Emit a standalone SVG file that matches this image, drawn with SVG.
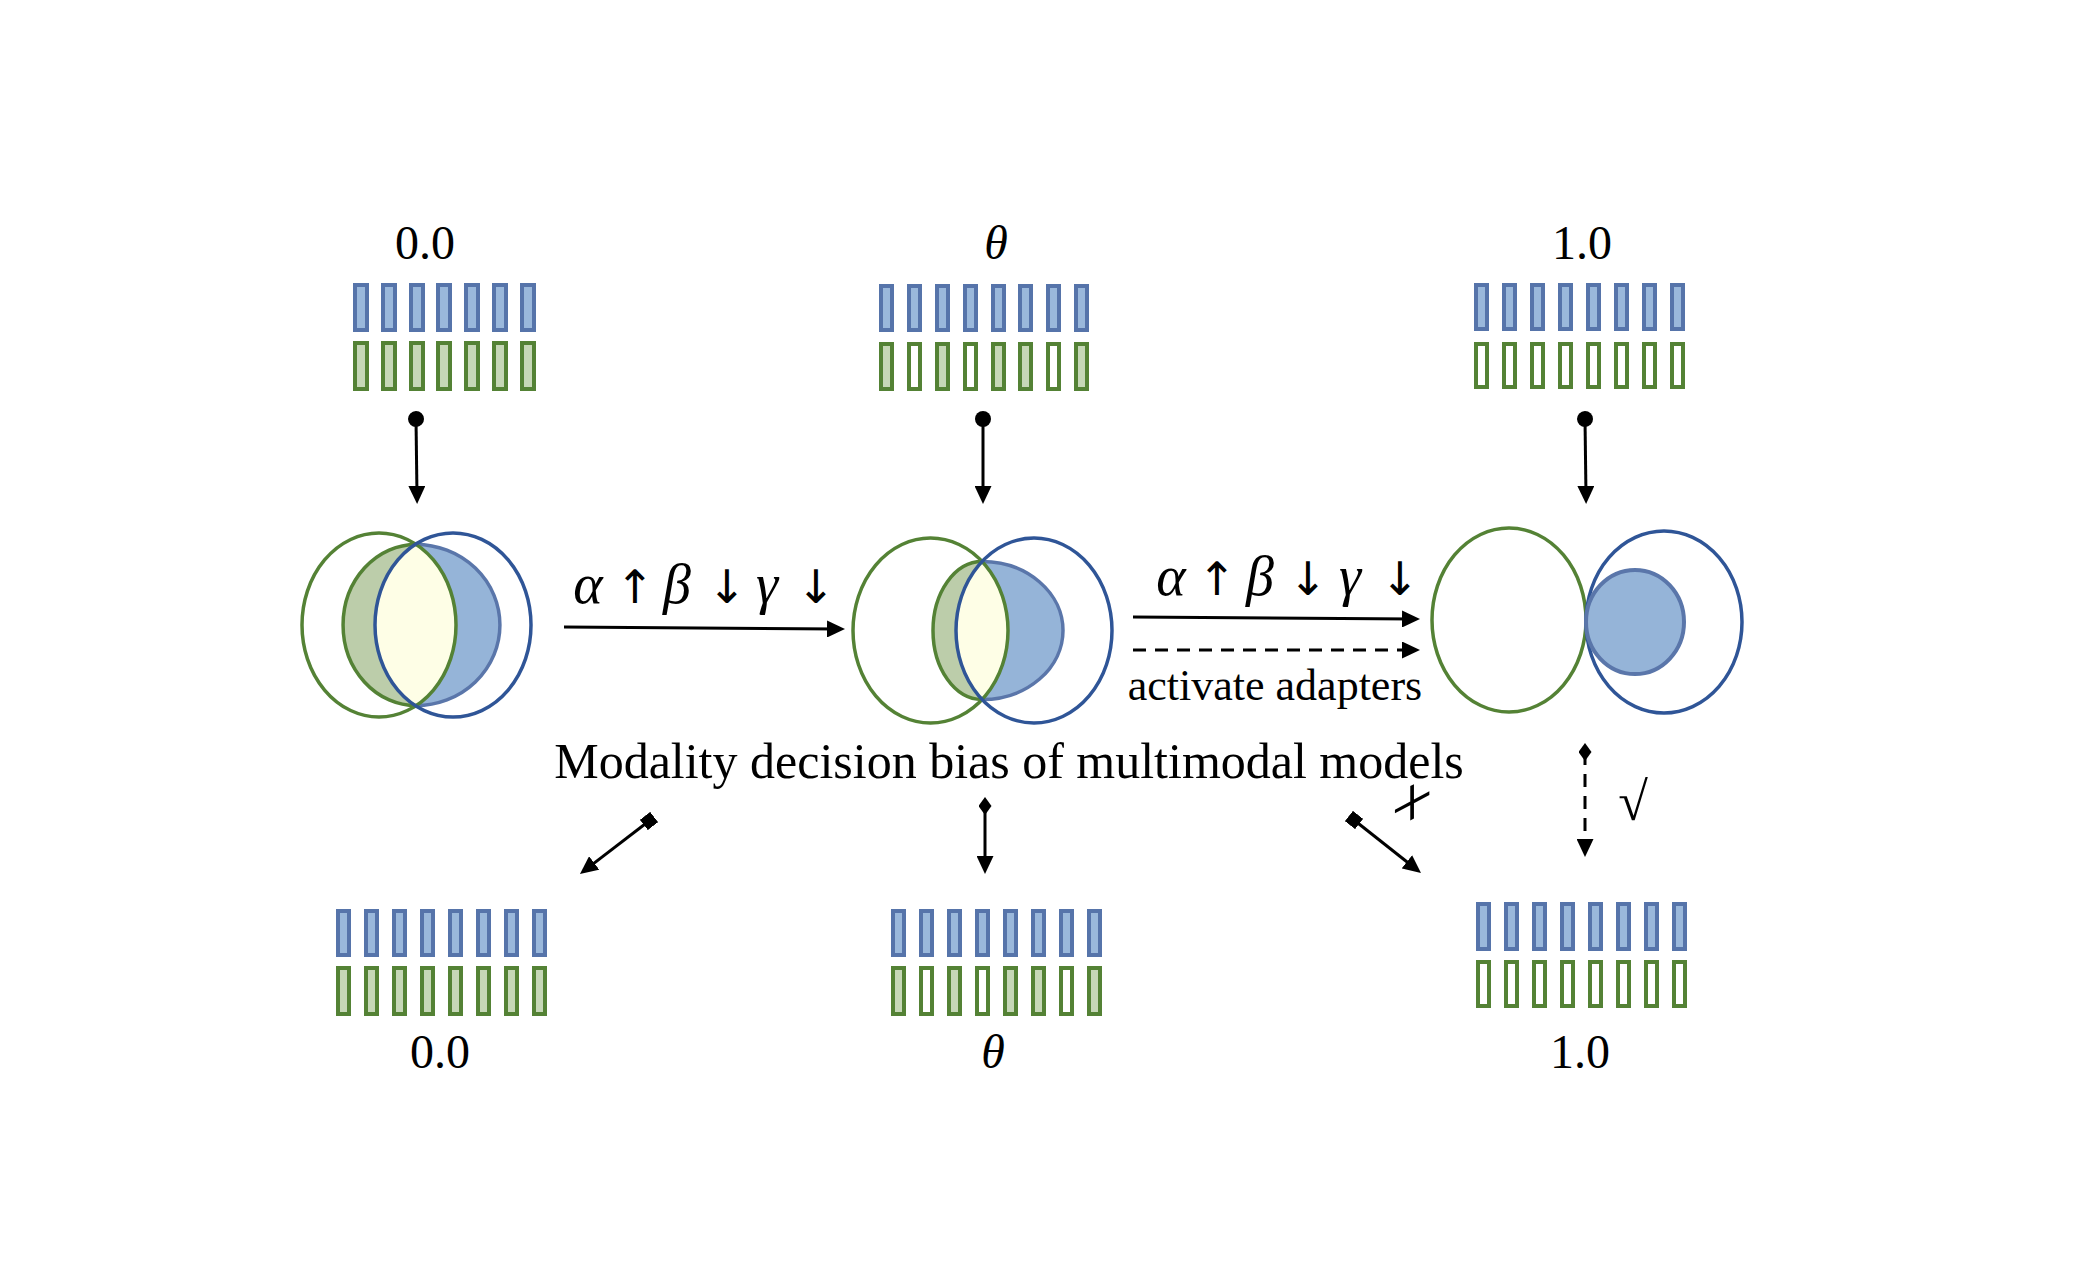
<svg xmlns="http://www.w3.org/2000/svg" width="2081" height="1281" viewBox="0 0 2081 1281">
<style>
  .bb{fill:#9ab8db;stroke:#5674aa;stroke-width:4}
  .gf{fill:#c6d7b7;stroke:#548235;stroke-width:4}
  .ge{fill:#ffffff;stroke:#548235;stroke-width:4}
  .gbig{fill:none;stroke:#548235;stroke-width:3.5}
  .bbig{fill:none;stroke:#2f5597;stroke-width:3.5}
  .ginner{fill:none;stroke:#548235;stroke-width:3.5}
  .binner{fill:none;stroke:#5a76aa;stroke-width:3.5}
  .gcres{fill:#bccdaa;stroke:none}
  .lens{fill:#fefee6;stroke:none}
  .bcres{fill:#95b4d8;stroke:none}
  .txt{font-family:"Liberation Serif","Times New Roman",serif;fill:#000}
  .num{font-size:48px;text-anchor:middle}
  .it{font-style:italic}
  .gr{font-style:italic;font-size:56px}
  .ar{font-family:"DejaVu Sans",sans-serif;font-size:46px}
  .conn{fill:none;stroke:#000;stroke-width:3}
  .dash{stroke-dasharray:13 9}
</style>
<defs>
  <marker id="arrow" markerUnits="userSpaceOnUse" viewBox="0 0 18 17" refX="10" refY="8.5" markerWidth="18" markerHeight="17" orient="auto">
    <path d="M0,0 L18,8.5 L0,17 Z" fill="#000"/>
  </marker>
  <marker id="dot" markerUnits="userSpaceOnUse" viewBox="0 0 18 18" refX="9" refY="9" markerWidth="18" markerHeight="18" orient="auto">
    <circle cx="9" cy="9" r="8" fill="#000"/>
  </marker>
  <marker id="square" markerUnits="userSpaceOnUse" viewBox="0 0 13 13" refX="6.5" refY="6.5" markerWidth="13" markerHeight="13" orient="auto">
    <rect x="0" y="0" width="13" height="13" fill="#000"/>
  </marker>
  <marker id="diamond" markerUnits="userSpaceOnUse" viewBox="0 0 18 13" refX="9" refY="6.5" markerWidth="18" markerHeight="13" orient="auto">
    <path d="M0,6.5 L9,0 L18,6.5 L9,13 Z" fill="#000"/>
  </marker>
</defs>
<rect width="2081" height="1281" fill="#ffffff"/>

<!-- top token groups -->
<g id="tokens-top-0">
  <text class="txt num" x="425" y="259">0.0</text>
  <g>
    <rect class="bb" x="355" y="285" width="12" height="45"/><rect class="bb" x="383" y="285" width="12" height="45"/><rect class="bb" x="411" y="285" width="12" height="45"/><rect class="bb" x="438" y="285" width="12" height="45"/><rect class="bb" x="466" y="285" width="12" height="45"/><rect class="bb" x="494" y="285" width="12" height="45"/><rect class="bb" x="522" y="285" width="12" height="45"/>
    <rect class="gf" x="355" y="343" width="12" height="46"/><rect class="gf" x="383" y="343" width="12" height="46"/><rect class="gf" x="411" y="343" width="12" height="46"/><rect class="gf" x="438" y="343" width="12" height="46"/><rect class="gf" x="466" y="343" width="12" height="46"/><rect class="gf" x="494" y="343" width="12" height="46"/><rect class="gf" x="522" y="343" width="12" height="46"/>
  </g>
</g>
<g id="tokens-top-theta">
  <text class="txt num it" x="996" y="259">θ</text>
  <g>
    <rect class="bb" x="881" y="286" width="11" height="44"/><rect class="bb" x="909" y="286" width="11" height="44"/><rect class="bb" x="937" y="286" width="11" height="44"/><rect class="bb" x="965" y="286" width="11" height="44"/><rect class="bb" x="993" y="286" width="11" height="44"/><rect class="bb" x="1020" y="286" width="11" height="44"/><rect class="bb" x="1048" y="286" width="11" height="44"/><rect class="bb" x="1076" y="286" width="11" height="44"/>
    <rect class="gf" x="881" y="344" width="11" height="45"/><rect class="ge" x="909" y="344" width="11" height="45"/><rect class="gf" x="937" y="344" width="11" height="45"/><rect class="ge" x="965" y="344" width="11" height="45"/><rect class="gf" x="993" y="344" width="11" height="45"/><rect class="gf" x="1020" y="344" width="11" height="45"/><rect class="ge" x="1048" y="344" width="11" height="45"/><rect class="gf" x="1076" y="344" width="11" height="45"/>
  </g>
</g>
<g id="tokens-top-1">
  <text class="txt num" x="1582" y="259">1.0</text>
  <g>
    <rect class="bb" x="1476" y="285" width="11" height="44"/><rect class="bb" x="1504" y="285" width="11" height="44"/><rect class="bb" x="1532" y="285" width="11" height="44"/><rect class="bb" x="1560" y="285" width="11" height="44"/><rect class="bb" x="1588" y="285" width="11" height="44"/><rect class="bb" x="1616" y="285" width="11" height="44"/><rect class="bb" x="1644" y="285" width="11" height="44"/><rect class="bb" x="1672" y="285" width="11" height="44"/>
    <rect class="ge" x="1476" y="344" width="11" height="43"/><rect class="ge" x="1504" y="344" width="11" height="43"/><rect class="ge" x="1532" y="344" width="11" height="43"/><rect class="ge" x="1560" y="344" width="11" height="43"/><rect class="ge" x="1588" y="344" width="11" height="43"/><rect class="ge" x="1616" y="344" width="11" height="43"/><rect class="ge" x="1644" y="344" width="11" height="43"/><rect class="ge" x="1672" y="344" width="11" height="43"/>
  </g>
</g>

<!-- Venn nodes -->
<g id="venn-0">
  <path class="gcres" d="M416,544.4 A73,80.6 0 0 0 416,705.6 A78,92 0 0 1 416,544.4 Z"/>
  <path class="lens" d="M416,544.4 A77,92 0 0 1 416,705.6 A78,92 0 0 1 416,544.4 Z"/>
  <path class="bcres" d="M416,544.4 A84,80.6 0 0 1 416,705.6 A77,92 0 0 0 416,544.4 Z"/>
  <path class="ginner" d="M416,544.4 A73,80.6 0 0 0 416,705.6"/>
  <path class="binner" d="M416,544.4 A84,80.6 0 0 1 416,705.6"/>
  <ellipse class="gbig" cx="379" cy="625" rx="77" ry="92"/>
  <ellipse class="bbig" cx="453" cy="625" rx="78" ry="92"/>
</g>
<g id="venn-theta">
  <path class="gcres" d="M982,561.5 A49,69 0 0 0 982,699.5 A78,92.5 0 0 1 982,561.5 Z"/>
  <path class="lens" d="M982,561.5 A77.5,92.5 0 0 1 982,699.5 A78,92.5 0 0 1 982,561.5 Z"/>
  <path class="bcres" d="M982,561.5 A81,69 0 0 1 982,699.5 A77.5,92.5 0 0 0 982,561.5 Z"/>
  <path class="ginner" d="M982,561.5 A49,69 0 0 0 982,699.5"/>
  <path class="binner" d="M982,561.5 A81,69 0 0 1 982,699.5"/>
  <ellipse class="gbig" cx="930.5" cy="630.5" rx="77.5" ry="92.5"/>
  <ellipse class="bbig" cx="1034" cy="630.5" rx="78" ry="92.5"/>
</g>
<g id="venn-1">
  <ellipse class="gbig" cx="1509" cy="620" rx="77" ry="92"/>
  <ellipse class="bbig" cx="1664" cy="622" rx="78" ry="91"/>
  <ellipse cx="1635" cy="622" rx="49" ry="52" fill="#95b4d8" stroke="#5a76aa" stroke-width="4"/>
</g>

<!-- labels -->
<g id="label-shift-1">
  <text class="txt" text-anchor="middle" y="603"><tspan class="gr" x="588">α</tspan><tspan class="ar" x="635">↑</tspan><tspan class="gr" x="677">β</tspan><tspan class="ar" x="727">↓</tspan><tspan class="gr" x="767">γ</tspan><tspan class="ar" x="816">↓</tspan></text>
</g>
<g id="label-shift-2">
  <text class="txt" text-anchor="middle" y="595"><tspan class="gr" x="1171">α</tspan><tspan class="ar" x="1217">↑</tspan><tspan class="gr" x="1260">β</tspan><tspan class="ar" x="1308">↓</tspan><tspan class="gr" x="1350">γ</tspan><tspan class="ar" x="1400">↓</tspan></text>
  <text class="txt" font-size="44" text-anchor="middle" x="1275" y="700">activate adapters</text>
</g>
<g id="title">
  <text class="txt" font-size="50" text-anchor="middle" x="1009" y="778">Modality decision bias of multimodal models</text>
</g>
<g id="marks">
  <text class="txt" font-size="74" text-anchor="middle" transform="translate(1412,806) skewY(-28)" x="0" y="21">+</text>
  <text class="txt" font-size="54" text-anchor="middle" x="1633" y="820">√</text>
</g>

<!-- bottom token groups -->
<g id="tokens-bottom-0">
  <g>
    <rect class="bb" x="338" y="911" width="11" height="44"/><rect class="bb" x="366" y="911" width="11" height="44"/><rect class="bb" x="394" y="911" width="11" height="44"/><rect class="bb" x="422" y="911" width="11" height="44"/><rect class="bb" x="450" y="911" width="11" height="44"/><rect class="bb" x="478" y="911" width="11" height="44"/><rect class="bb" x="506" y="911" width="11" height="44"/><rect class="bb" x="534" y="911" width="11" height="44"/>
    <rect class="gf" x="338" y="968" width="11" height="46"/><rect class="gf" x="366" y="968" width="11" height="46"/><rect class="gf" x="394" y="968" width="11" height="46"/><rect class="gf" x="422" y="968" width="11" height="46"/><rect class="gf" x="450" y="968" width="11" height="46"/><rect class="gf" x="478" y="968" width="11" height="46"/><rect class="gf" x="506" y="968" width="11" height="46"/><rect class="gf" x="534" y="968" width="11" height="46"/>
  </g>
  <text class="txt num" x="440" y="1068">0.0</text>
</g>
<g id="tokens-bottom-theta">
  <g>
    <rect class="bb" x="893" y="911" width="11" height="44"/><rect class="bb" x="921" y="911" width="11" height="44"/><rect class="bb" x="949" y="911" width="11" height="44"/><rect class="bb" x="977" y="911" width="11" height="44"/><rect class="bb" x="1005" y="911" width="11" height="44"/><rect class="bb" x="1033" y="911" width="11" height="44"/><rect class="bb" x="1061" y="911" width="11" height="44"/><rect class="bb" x="1089" y="911" width="11" height="44"/>
    <rect class="gf" x="893" y="968" width="11" height="46"/><rect class="ge" x="921" y="968" width="11" height="46"/><rect class="gf" x="949" y="968" width="11" height="46"/><rect class="ge" x="977" y="968" width="11" height="46"/><rect class="gf" x="1005" y="968" width="11" height="46"/><rect class="gf" x="1033" y="968" width="11" height="46"/><rect class="ge" x="1061" y="968" width="11" height="46"/><rect class="gf" x="1089" y="968" width="11" height="46"/>
  </g>
  <text class="txt num it" x="993" y="1068">θ</text>
</g>
<g id="tokens-bottom-1">
  <g>
    <rect class="bb" x="1478" y="904" width="11" height="45"/><rect class="bb" x="1506" y="904" width="11" height="45"/><rect class="bb" x="1534" y="904" width="11" height="45"/><rect class="bb" x="1562" y="904" width="11" height="45"/><rect class="bb" x="1590" y="904" width="11" height="45"/><rect class="bb" x="1618" y="904" width="11" height="45"/><rect class="bb" x="1646" y="904" width="11" height="45"/><rect class="bb" x="1674" y="904" width="11" height="45"/>
    <rect class="ge" x="1478" y="962" width="11" height="44"/><rect class="ge" x="1506" y="962" width="11" height="44"/><rect class="ge" x="1534" y="962" width="11" height="44"/><rect class="ge" x="1562" y="962" width="11" height="44"/><rect class="ge" x="1590" y="962" width="11" height="44"/><rect class="ge" x="1618" y="962" width="11" height="44"/><rect class="ge" x="1646" y="962" width="11" height="44"/><rect class="ge" x="1674" y="962" width="11" height="44"/>
  </g>
  <text class="txt num" x="1580" y="1068">1.0</text>
</g>

<!-- connectors -->
<g id="connectors">
  <line class="conn" x1="416" y1="419" x2="417" y2="496" marker-start="url(#dot)" marker-end="url(#arrow)"/>
  <line class="conn" x1="983" y1="419" x2="983" y2="496" marker-start="url(#dot)" marker-end="url(#arrow)"/>
  <line class="conn" x1="1585" y1="419" x2="1586" y2="496" marker-start="url(#dot)" marker-end="url(#arrow)"/>
  <line class="conn" x1="564" y1="627" x2="837" y2="629" marker-end="url(#arrow)"/>
  <line class="conn" x1="1133" y1="617" x2="1412" y2="619" marker-end="url(#arrow)"/>
  <line class="conn dash" x1="1133" y1="650" x2="1412" y2="650" marker-end="url(#arrow)"/>
  <line class="conn" x1="649" y1="821" x2="586.3" y2="869.1" marker-start="url(#square)" marker-end="url(#arrow)"/>
  <line class="conn" x1="985" y1="806" x2="985" y2="866" marker-start="url(#diamond)" marker-end="url(#arrow)"/>
  <line class="conn" x1="1354" y1="820" x2="1414.7" y2="868" marker-start="url(#square)" marker-end="url(#arrow)"/>
  <line class="conn dash" x1="1585" y1="752" x2="1585" y2="849" stroke-width="3.5" marker-start="url(#diamond)" marker-end="url(#arrow)"/>
</g>
</svg>
